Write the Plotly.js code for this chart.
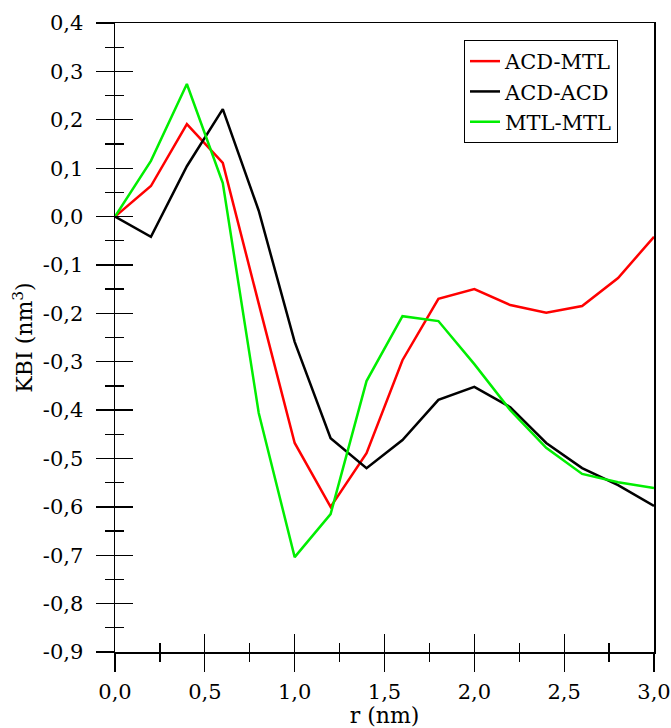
<!DOCTYPE html>
<html>
<head>
<meta charset="utf-8">
<script src="https://cdn.plot.ly/plotly-3.0.1.min.js"></script>
<style>html,body{margin:0;padding:0;background:#fff;}#plot{width:671px;height:728px;}</style>
</head>
<body>
<div id="plot"></div>
<script>
const r = [0.0, 0.2, 0.4, 0.6, 0.8, 1.0, 1.2, 1.4, 1.6, 1.8, 2.0, 2.2, 2.4, 2.6, 2.8, 3.0];
const acdMtl = [0.0, 0.063, 0.191, 0.111, -0.18, -0.468, -0.600, -0.489, -0.297, -0.170, -0.150, -0.183, -0.199, -0.185, -0.127, -0.042];
const acdAcd = [0.0, -0.042, 0.104, 0.222, 0.012, -0.259, -0.458, -0.520, -0.462, -0.379, -0.352, -0.394, -0.468, -0.520, -0.555, -0.598];
const mtlMtl = [0.0, 0.115, 0.274, 0.069, -0.406, -0.704, -0.615, -0.340, -0.206, -0.216, -0.305, -0.400, -0.478, -0.532, -0.549, -0.561];
const seriesNames = ["ACD-MTL", "ACD-ACD", "MTL-MTL"];
const seriesColors = ["#ff0000", "#000000", "#00ee00"];
const yTickVals = [0.4, 0.3, 0.2, 0.1, 0.0, -0.1, -0.2, -0.3, -0.4, -0.5, -0.6, -0.7, -0.8, -0.9];
const yTickText = ["0,4", "0,3", "0,2", "0,1", "0,0", "-0,1", "-0,2", "-0,3", "-0,4", "-0,5", "-0,6", "-0,7", "-0,8", "-0,9"];
const xTickVals = [0.0, 0.5, 1.0, 1.5, 2.0, 2.5, 3.0];
const xTickText = ["0,0", "0,5", "1,0", "1,5", "2,0", "2,5", "3,0"];
const xRange = [0, 3];
const yRange = [-0.9, 0.4];

const FAM = "DejaVu Serif";
const mkFont = (s) => ({family: FAM, size: s, color: "#000000"});
const ys = [acdMtl, acdAcd, mtlMtl];
const traces = ys.map((y, i) => ({
  x: r, y: y, type: "scatter", mode: "lines", name: seriesNames[i],
  line: {color: seriesColors[i], width: 2.5}
}));
// invisible helper traces so the tick-only overlay axes get drawn
[2, 3, 4].forEach(k => traces.push({x: r, y: acdMtl, xaxis: "x" + k, yaxis: "y" + k, mode: "lines",
  line: {color: "rgba(0,0,0,0)"}, showlegend: false, hoverinfo: "skip"}));

const base = {showgrid: false, zeroline: false, tickcolor: "#000", tickwidth: 1.3};
function tickAxis(kind, overlay, anchor, dtick, ticks, len) {
  return Object.assign({}, base, {
    overlaying: overlay, anchor: anchor, range: kind === "x" ? xRange : yRange,
    tickmode: "linear", tick0: 0, dtick: dtick, ticks: ticks, ticklen: len,
    showticklabels: false, showline: false, side: kind === "x" ? "bottom" : "left"
  });
}
const layout = {
  width: 671, height: 728,
  margin: {l: 115, r: 17, t: 23, b: 76},
  paper_bgcolor: "#fff", plot_bgcolor: "#fff",
  font: mkFont(21),
  showlegend: true,
  legend: {x: 0.6475, y: 0.973, xanchor: "left", yanchor: "top",
    bordercolor: "#000", borderwidth: 1, bgcolor: "#fff",
    font: mkFont(21), tracegroupgap: 0},
  xaxis: Object.assign({}, base, {
    range: xRange, tickmode: "array", tickvals: xTickVals, ticktext: xTickText,
    ticks: "outside", ticklen: 18, ticklabelstandoff: 2,
    showline: true, mirror: true, linecolor: "#000", linewidth: 1.5,
    tickfont: mkFont(21),
    title: {text: "r (nm)", font: mkFont(22), standoff: 8}
  }),
  yaxis: Object.assign({}, base, {
    range: yRange, tickmode: "array", tickvals: yTickVals, ticktext: yTickText,
    ticks: "outside", ticklen: 18, ticklabelstandoff: 8,
    showline: true, mirror: true, linecolor: "#000", linewidth: 1.5,
    tickfont: mkFont(21),
    title: {text: "KBI (nm<sup>3</sup>)", font: mkFont(22), standoff: 4}
  }),
  xaxis2: tickAxis("x", "x", "y2", 0.5, "inside", 18),
  yaxis2: tickAxis("y", "y", "x2", 0.1, "inside", 18),
  xaxis3: tickAxis("x", "x", "y3", 0.25, "outside", 9),
  yaxis3: tickAxis("y", "y", "x3", 0.05, "outside", 9),
  xaxis4: tickAxis("x", "x", "y4", 0.25, "inside", 9),
  yaxis4: tickAxis("y", "y", "x4", 0.05, "inside", 9)
};
Plotly.newPlot("plot", traces, layout, {displayModeBar: false, staticPlot: true});
</script>
</body>
</html>
